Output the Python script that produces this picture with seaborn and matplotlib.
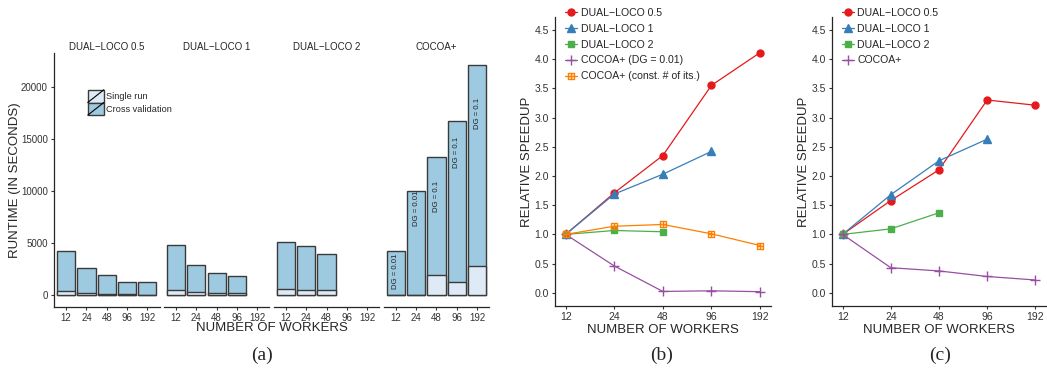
import numpy as np
import pandas as pd
import matplotlib
matplotlib.use("Agg")
import matplotlib.pyplot as plt
import seaborn as sns
from matplotlib.patches import Patch, Rectangle
from matplotlib.lines import Line2D
from matplotlib.legend_handler import HandlerBase
from matplotlib.path import Path

# ---- data ----
workers = [12, 24, 48, 96, 192]
worker_labels = ["12", "24", "48", "96", "192"]
methods = ["DUAL\u2212LOCO 0.5", "DUAL\u2212LOCO 1", "DUAL\u2212LOCO 2", "COCOA+"]

# panel (a): runtime in seconds
cv_loco05 = [4230, 2660, 1990, 1280, 1300]
single_loco05 = [420, 260, 160, 100, 80]
cv_loco1 = [4850, 2880, 2150, 1830, np.nan]
single_loco1 = [520, 330, 230, 200, np.nan]
cv_loco2 = [5160, 4740, 3940, np.nan, np.nan]
single_loco2 = [580, 520, 520, np.nan, np.nan]
cv_cocoa = [4300, 10000, 13300, 16800, 22180]
single_cocoa = [40, 60, 2000, 1300, 2800]
dg_labels = ["DG = 0.01", "DG = 0.01", "DG = 0.1", "DG = 0.1", "DG = 0.1"]
dg_label_y = [2300, 8400, 9500, 13700, 17500]

# panel (b): relative speedup
b_loco05 = [1.0, 1.71, 2.35, 3.55, 4.11]
b_loco1 = [1.0, 1.69, 2.03, 2.42, np.nan]
b_loco2 = [1.0, 1.067, 1.045, np.nan, np.nan]
b_cocoa_dg = [1.0, 0.46, 0.024, 0.035, 0.02]
b_cocoa_const = [1.0, 1.14, 1.17, 1.01, 0.81]

# panel (c): relative speedup
c_loco05 = [1.0, 1.58, 2.105, 3.30, 3.21]
c_loco1 = [1.0, 1.68, 2.26, 2.63, np.nan]
c_loco2 = [1.0, 1.095, 1.37, np.nan, np.nan]
c_cocoa = [1.0, 0.43, 0.375, 0.28, 0.22]

# ---- style ----
sns.set_style("ticks")
plt.rcParams['font.family'] = ['Liberation Sans', 'DejaVu Sans']
plt.rcParams['axes.linewidth'] = 0.9
plt.rcParams['xtick.major.size'] = 2.5
plt.rcParams['ytick.major.size'] = 2.5
plt.rcParams['xtick.major.width'] = 0.8
plt.rcParams['ytick.major.width'] = 0.8
plt.rcParams['xtick.color'] = '#333333'
plt.rcParams['ytick.color'] = '#333333'

cv_color = "#9ECAE1"
single_color = "#DEEBF7"
edge = "#3a3a3a"
red, blue, green, purple, orange = "#E41A1C", "#377EB8", "#4DAF4A", "#984EA3", "#FF7F00"

W, H = 1047, 371
fig = plt.figure(figsize=(W / 100, H / 100), dpi=100)


def add_ax(x0, y0, x1, y1):
    return fig.add_axes([x0 / W, 1 - y1 / H, (x1 - x0) / W, (y1 - y0) / H])


class BoxDiag(HandlerBase):
    def create_artists(self, legend, orig, xd, yd, width, height, fontsize, trans):
        r = Rectangle((-xd, -yd), width, height, facecolor=orig.get_facecolor(),
                      edgecolor=edge, lw=1, transform=trans)
        l = Line2D([-xd, -xd + width], [-yd, -yd + height], color="black", lw=0.8, transform=trans)
        return [r, l]


# ---- panel (a): faceted bars ----
runtime = pd.DataFrame({
    "method": np.repeat(methods, len(workers)),
    "workers": worker_labels * len(methods),
    "cv": cv_loco05 + cv_loco1 + cv_loco2 + cv_cocoa,
    "single": single_loco05 + single_loco1 + single_loco2 + single_cocoa,
})

ymax = max(cv_cocoa)
pad = ymax * 0.05
facet_w, step = 105.5, 109.9
axes_a = []
for i, m in enumerate(methods):
    x0 = 54 + i * step
    ax = add_ax(x0, 53, x0 + facet_w, 307)
    ax.patch.set_alpha(0)
    sub = runtime[runtime["method"] == m]
    sns.barplot(data=sub, x="workers", y="cv", order=worker_labels, color=cv_color,
                saturation=1, width=0.9, edgecolor=edge, linewidth=1, errorbar=None, ax=ax)
    sns.barplot(data=sub, x="workers", y="single", order=worker_labels, color=single_color,
                saturation=1, width=0.9, edgecolor=edge, linewidth=1, errorbar=None, ax=ax)
    ax.set_xlim(-0.6, 4.6)
    ax.set_ylim(-pad, ymax + pad)
    ax.set_xlabel("")
    ax.set_ylabel("")
    ax.set_title(m, fontsize=7, pad=2)
    ax.tick_params(axis="x", labelsize=7, pad=1.5)
    sns.despine(ax=ax)
    if i == 0:
        ax.set_yticks([0, 5000, 10000, 15000, 20000])
        ax.tick_params(axis="y", labelsize=7, pad=2)
        ax.set_ylabel("RUNTIME (IN SECONDS)", fontsize=9.5, labelpad=0)
    else:
        ax.spines["left"].set_visible(False)
        ax.set_yticks([])
    axes_a.append(ax)

for j, (lab, yv) in enumerate(zip(dg_labels, dg_label_y)):
    axes_a[3].text(j, yv, lab, rotation=90, ha="center", va="center", fontsize=5.6, color="#222222")

leg = axes_a[0].legend(handles=[Patch(facecolor=single_color), Patch(facecolor=cv_color)],
                       labels=["Single run", "Cross validation"],
                       handler_map={Patch: BoxDiag()}, frameon=False, fontsize=6.6,
                       handlelength=1.75, handleheight=1.75, labelspacing=0, handletextpad=0.2,
                       borderpad=0, borderaxespad=0, loc="upper left", bbox_to_anchor=(0.32, 0.855))
leg.set_zorder(10)

fig.text(272 / W, 1 - 328 / H, "NUMBER OF WORKERS", ha="center", va="center", fontsize=9.5)

# ---- panels (b) and (c): speedup lines ----
box_plus = Path([(-1, -1), (1, -1), (1, 1), (-1, 1), (-1, -1), (-1, 0), (1, 0), (0, -1), (0, 1)],
                [Path.MOVETO, Path.LINETO, Path.LINETO, Path.LINETO, Path.CLOSEPOLY,
                 Path.MOVETO, Path.LINETO, Path.MOVETO, Path.LINETO])

b_series = [
    ("DUAL\u2212LOCO 0.5", b_loco05, red, "o", 5),
    ("DUAL\u2212LOCO 1", b_loco1, blue, "^", 5.5),
    ("DUAL\u2212LOCO 2", b_loco2, green, "s", 4.6),
    ("COCOA+ (DG = 0.01)", b_cocoa_dg, purple, "+", 7),
    ("COCOA+ (const. # of its.)", b_cocoa_const, orange, box_plus, 5),
]
c_series = [
    ("DUAL\u2212LOCO 0.5", c_loco05, red, "o", 5),
    ("DUAL\u2212LOCO 1", c_loco1, blue, "^", 5.5),
    ("DUAL\u2212LOCO 2", c_loco2, green, "s", 4.6),
    ("COCOA+", c_cocoa, purple, "+", 7),
]


def speedup_panel(x0, x1, series, legend_x):
    ax = add_ax(x0, 16.7, x1, 306)
    for name, vals, col, mk, ms in series:
        d = pd.DataFrame({"workers": workers, "speedup": vals}).dropna()
        kw = dict(marker=mk, markersize=ms, markeredgecolor=col, markeredgewidth=1)
        if mk in ("+",) or isinstance(mk, Path):
            kw["markerfacecolor"] = "none"
        else:
            kw["markerfacecolor"] = col
        sns.lineplot(data=d, x="workers", y="speedup", color=col, lw=0.9, label=name, ax=ax, **kw)
    ax.set_xscale("log", base=2)
    ax.set_xlim(workers[0] / 2 ** 0.22, workers[-1] * 2 ** 0.22)
    ax.set_xticks(workers)
    ax.set_xticklabels(worker_labels)
    ax.minorticks_off()
    ax.set_ylim(-0.225, 4.725)
    ax.set_yticks(np.arange(0, 4.51, 0.5))
    ax.set_yticklabels([f"{v:.1f}" for v in np.arange(0, 4.51, 0.5)])
    ax.tick_params(labelsize=7.5, pad=2)
    ax.set_xlabel("NUMBER OF WORKERS", fontsize=9.5, labelpad=1)
    ax.set_ylabel("RELATIVE SPEEDUP", fontsize=9.5, labelpad=1)
    sns.despine(ax=ax)
    ax.legend(frameon=False, fontsize=7.6, loc="upper left", bbox_to_anchor=(legend_x, 1.03),
              handlelength=1.2, handletextpad=0.3, labelspacing=0.55, borderpad=0, borderaxespad=0)
    return ax


speedup_panel(555, 770.7, b_series, 0.045)
speedup_panel(832, 1046, c_series, 0.045)

# ---- sub-figure captions ----
for xc, lab in [(262, "(a)"), (662, "(b)"), (940, "(c)")]:
    fig.text(xc / W, 1 - 355 / H, lab, ha="center", va="center", fontsize=14,
             family=["Liberation Serif", "DejaVu Serif"])

fig.savefig("out.png", dpi=100)
